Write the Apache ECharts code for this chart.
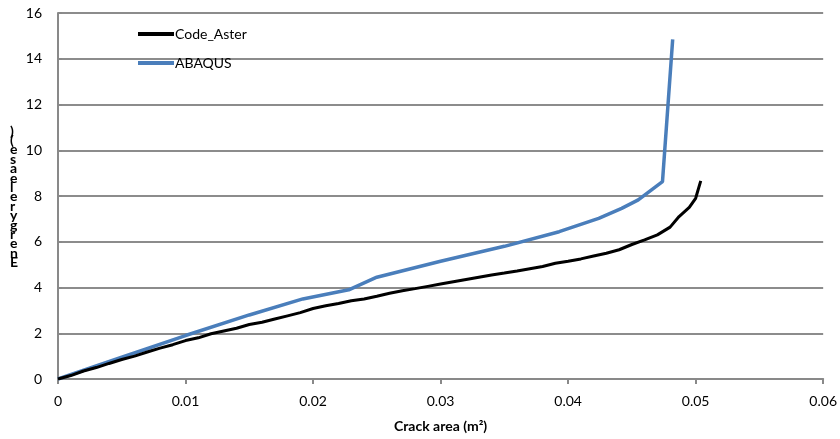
<!DOCTYPE html>
<html>
<head>
<meta charset="utf-8">
<script src="https://cdn.jsdelivr.net/npm/echarts@6/dist/echarts.min.js"></script>
<style>html,body{margin:0;padding:0;background:#fff}#c{width:840px;height:439px}</style>
</head>
<body>
<div id="c"></div>
<script>
var seriesNames = ['Code_Aster', 'ABAQUS'];
var codeAsterX = [0,0.001,0.002,0.003,0.004,0.005,0.006,0.007,0.008,0.009,0.010,0.011,0.012,0.013,0.014,0.015,0.016,0.017,0.018,0.019,0.020,0.021,0.022,0.023,0.024,0.025,0.026,0.027,0.028,0.029,0.030,0.031,0.032,0.033,0.034,0.035,0.036,0.037,0.038,0.039,0.040,0.041,0.042,0.043,0.044,0.045,0.046,0.047,0.048,0.0487,0.0495,0.0500,0.0504];
var codeAsterY = [0,0.15,0.35,0.5,0.68,0.85,1.0,1.18,1.35,1.5,1.68,1.8,1.98,2.1,2.22,2.38,2.48,2.62,2.76,2.9,3.08,3.2,3.3,3.42,3.5,3.62,3.75,3.86,3.95,4.05,4.15,4.25,4.35,4.45,4.55,4.63,4.72,4.82,4.92,5.06,5.15,5.25,5.38,5.5,5.65,5.88,6.08,6.3,6.64,7.1,7.5,7.9,8.66];
var abaqusX = [0,0.005,0.010,0.015,0.0192,0.0228,0.025,0.030,0.035,0.0393,0.0424,0.0442,0.0455,0.0474,0.0482];
var abaqusY = [0,0.95,1.9,2.8,3.5,3.9,4.45,5.15,5.8,6.44,7.02,7.46,7.83,8.63,14.85];
var xTicks = [0,0.01,0.02,0.03,0.04,0.05,0.06];
var yTicks = [0,2,4,6,8,10,12,14,16];
var xAxisTitle = 'Crack area (m²)';
var yAxisChars = [')','(','e','s','a','e','l','e','r','y','g','r','e','n','E'];

function pairs(xs, ys){ return xs.map(function(x,i){return [x, ys[i]];}); }
var font = 'Lato, "Open Sans", sans-serif';
var chart = echarts.init(document.getElementById('c'));
chart.setOption({
  animation: false,
  backgroundColor: '#fff',
  textStyle: {fontFamily: font},
  grid: {left: 58, right: 15, top: 13, bottom: 60},
  legend: {
    orient: 'vertical', left: 133, top: 22, itemGap: 15,
    itemWidth: 36, itemHeight: 4, icon: 'rect',
    textStyle: {fontFamily: font, fontSize: 14, color: '#000', padding: [0,0,0,-4]},
    data: seriesNames
  },
  xAxis: {
    type: 'value', min: 0, max: 0.06, interval: 0.01,
    axisLine: {lineStyle: {color: '#898989', width: 2}},
    axisTick: {show: true, length: 5, lineStyle: {color: '#898989', width: 2}},
    splitLine: {show: false},
    axisLabel: {color: '#000', fontSize: 14, margin: 15, fontFamily: font,
      formatter: function(v){ return xTicks.indexOf(+v.toFixed(2))>=0 ? (+v.toFixed(2)).toString() : ''; }},
    name: xAxisTitle, nameLocation: 'middle', nameGap: 40,
    nameTextStyle: {fontWeight: 'bold', fontSize: 14, color: '#000', fontFamily: font}
  },
  yAxis: {
    type: 'value', min: 0, max: 16, interval: 2,
    axisLine: {show: true, lineStyle: {color: '#898989', width: 2}},
    axisTick: {show: true, inside: true, length: 4, lineStyle: {color: '#898989', width: 2}},
    splitLine: {show: true, lineStyle: {color: '#8c8c8c', width: 2}},
    axisLabel: {color: '#000', fontSize: 14, margin: 16, fontFamily: font}
  },
  graphic: [{
    type: 'text', left: 10, top: 124,
    style: {text: yAxisChars.join('\n'), fontSize: 14, fontWeight: 'bold', lineHeight: 9.4,
      fill: '#000', fontFamily: font, align: 'center'}
  }],
  series: [{
    name: seriesNames[0], type: 'line', showSymbol: false, symbol: 'none',
    data: pairs(codeAsterX, codeAsterY),
    lineStyle: {color: '#000', width: 3}, itemStyle: {color: '#000'}, z: 3
  }, {
    name: seriesNames[1], type: 'line', showSymbol: false, symbol: 'none',
    data: pairs(abaqusX, abaqusY),
    lineStyle: {color: '#4a7ebb', width: 3.5}, itemStyle: {color: '#4a7ebb'}, z: 2
  }]
});
</script>
</body>
</html>
